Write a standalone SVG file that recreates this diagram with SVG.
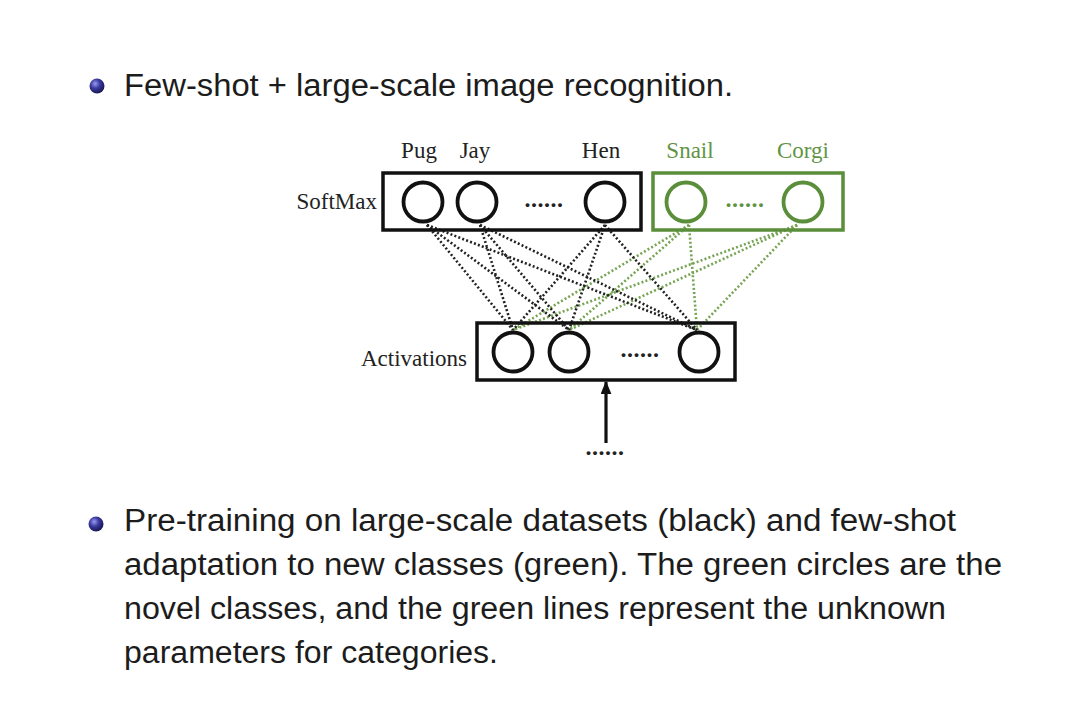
<svg xmlns="http://www.w3.org/2000/svg" width="1084" height="721" viewBox="0 0 1084 721">
<defs>
  <radialGradient id="ball" cx="0.38" cy="0.35" r="0.7">
    <stop offset="0" stop-color="#9a9af0"/>
    <stop offset="0.45" stop-color="#3a3aa0"/>
    <stop offset="1" stop-color="#14144a"/>
  </radialGradient>
  <marker id="arrow" viewBox="0 0 12 10" refX="11" refY="5" markerWidth="13" markerHeight="11" markerUnits="userSpaceOnUse" orient="auto">
    <path d="M0,0 L12,5 L0,10 z" fill="#111"/>
  </marker>
  <style>
    .body { font-family: "Liberation Sans", Arial, sans-serif; font-size: 31px; fill: #1c1c1c; }
    .lbl { font-family: "Liberation Serif", "Times New Roman", serif; font-size: 23px; fill: #222; }
    .glbl { font-family: "Liberation Serif", "Times New Roman", serif; font-size: 23px; fill: #5f9444; }
    .dots { font-family: "Liberation Serif", "Times New Roman", serif; font-size: 24px; font-weight: bold; letter-spacing: 0.5px; fill: #222; }
    .gdots { font-family: "Liberation Serif", "Times New Roman", serif; font-size: 24px; font-weight: bold; letter-spacing: 0.5px; fill: #5f9444; }
    .box { fill: none; stroke: #111; stroke-width: 3.5; }
    .gbox { fill: none; stroke: #5a8e3a; stroke-width: 3.5; }
    .node { fill: #fff; stroke: #111; stroke-width: 3.8; }
    .gnode { fill: #fff; stroke: #5a8e3a; stroke-width: 3.8; }
    .bl { stroke: #222; stroke-width: 2.6; stroke-dasharray: 2 2.2; fill: none; }
    .gl { stroke: #76a452; stroke-width: 2.6; stroke-dasharray: 2 2.2; fill: none; }
  </style>
</defs>
<rect width="1084" height="721" fill="#fff"/>

<g id="bullet1">
  <circle cx="97" cy="86" r="7.5" fill="url(#ball)"/>
  <text class="body" x="124" y="96" textLength="609" lengthAdjust="spacingAndGlyphs">Few-shot + large-scale image recognition.</text>
</g>

<g id="connectors">
  <g class="gl">
    <line x1="689" y1="225" x2="513" y2="330"/>
    <line x1="689" y1="225" x2="569" y2="330"/>
    <line x1="689" y1="225" x2="697" y2="330"/>
    <line x1="797" y1="225" x2="513" y2="330"/>
    <line x1="797" y1="225" x2="569" y2="330"/>
    <line x1="797" y1="225" x2="697" y2="330"/>
  </g>
  <g class="bl">
    <line x1="427" y1="225" x2="513" y2="330"/>
    <line x1="427" y1="225" x2="569" y2="330"/>
    <line x1="427" y1="225" x2="697" y2="330"/>
    <line x1="480" y1="225" x2="513" y2="330"/>
    <line x1="480" y1="225" x2="569" y2="330"/>
    <line x1="480" y1="225" x2="697" y2="330"/>
    <line x1="605" y1="225" x2="513" y2="330"/>
    <line x1="605" y1="225" x2="569" y2="330"/>
    <line x1="605" y1="225" x2="697" y2="330"/>
  </g>
  <line x1="606" y1="443" x2="606" y2="382" stroke="#111" stroke-width="3.2" marker-end="url(#arrow)"/>
</g>

<g id="softmax">
  <text class="lbl" x="377" y="209" text-anchor="end">SoftMax</text>
  <rect class="box" x="383" y="173" width="258" height="57"/>
  <g id="pug">
    <text class="lbl" x="419" y="158" text-anchor="middle">Pug</text>
    <circle class="node" cx="423" cy="202" r="19.5"/>
  </g>
  <g id="jay">
    <text class="lbl" x="475" y="158" text-anchor="middle">Jay</text>
    <circle class="node" cx="477" cy="202" r="19.5"/>
  </g>
  <text class="dots" x="544" y="207" text-anchor="middle">......</text>
  <g id="hen">
    <text class="lbl" x="601" y="158" text-anchor="middle">Hen</text>
    <circle class="node" cx="605" cy="202" r="19.5"/>
  </g>
</g>

<g id="novel">
  <rect class="gbox" x="653" y="173" width="190" height="57"/>
  <g id="snail">
    <text class="glbl" x="690" y="158" text-anchor="middle">Snail</text>
    <circle class="gnode" cx="686" cy="202" r="19.5"/>
  </g>
  <text class="gdots" x="745" y="207" text-anchor="middle">......</text>
  <g id="corgi">
    <text class="glbl" x="803" y="158" text-anchor="middle">Corgi</text>
    <circle class="gnode" cx="803" cy="202" r="19.5"/>
  </g>
</g>

<g id="activations">
  <text class="lbl" x="467" y="366" text-anchor="end">Activations</text>
  <rect class="box" x="477" y="323" width="258" height="57"/>
  <circle class="node" cx="513" cy="352" r="19.5"/>
  <circle class="node" cx="569" cy="352" r="19.5"/>
  <text class="dots" x="640" y="357" text-anchor="middle">......</text>
  <circle class="node" cx="699" cy="352" r="19.5"/>
</g>

<g id="input">
  <text class="dots" x="605" y="455" text-anchor="middle">......</text>
</g>

<g id="bullet2">
  <circle cx="96" cy="524" r="7.5" fill="url(#ball)"/>
  <text class="body" x="124" y="531" textLength="832" lengthAdjust="spacingAndGlyphs">Pre-training on large-scale datasets (black) and few-shot</text>
  <text class="body" x="124" y="575" textLength="878" lengthAdjust="spacingAndGlyphs">adaptation to new classes (green). The green circles are the</text>
  <text class="body" x="124" y="619" textLength="822" lengthAdjust="spacingAndGlyphs">novel classes, and the green lines represent the unknown</text>
  <text class="body" x="124" y="663" textLength="374" lengthAdjust="spacingAndGlyphs">parameters for categories.</text>
</g>
</svg>
